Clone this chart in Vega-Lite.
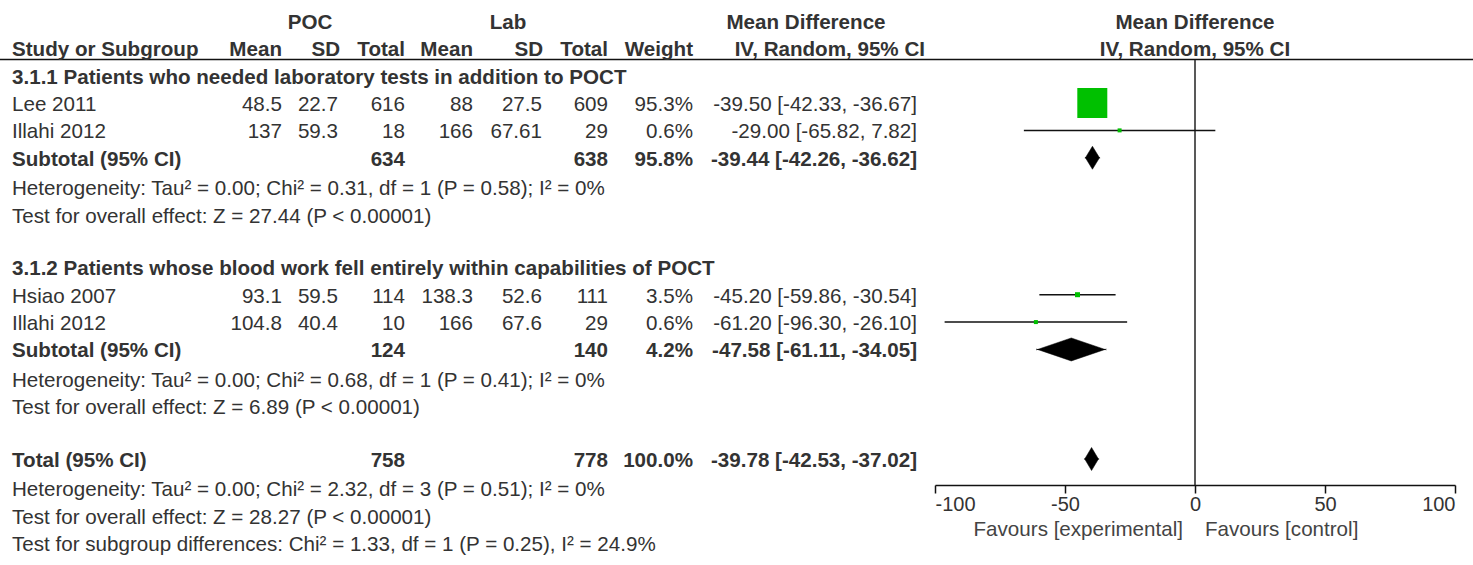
{
  "$schema": "https://vega.github.io/schema/vega-lite/v6.json",
  "width": 1473,
  "height": 565,
  "autosize": {"type": "none"},
  "padding": 0,
  "background": "white",
  "config": {
    "view": {"stroke": null},
    "text": {"font": "Liberation Sans", "fontSize": 20.6, "fill": "#333", "baseline": "middle"}
  },
  "datasets": {
    "rows": [
      {"id": "g1", "kind": "group", "label": "3.1.1 Patients who needed laboratory tests in addition to POCT"},
      {"id": "lee", "kind": "study", "label": "Lee 2011", "pocMean": 48.5, "pocSD": 22.7, "pocN": 616, "labMean": 88, "labSD": 27.5, "labN": 609, "weight": 0.953, "ci": "-39.50 [-42.33, -36.67]", "md": -39.5, "lo": -42.33, "hi": -36.67},
      {"id": "ill1", "kind": "study", "label": "Illahi 2012", "pocMean": 137, "pocSD": 59.3, "pocN": 18, "labMean": 166, "labSD": 67.61, "labN": 29, "weight": 0.006, "ci": "-29.00 [-65.82, 7.82]", "md": -29.0, "lo": -65.82, "hi": 7.82},
      {"id": "sub1", "kind": "subtotal", "label": "Subtotal (95% CI)", "pocN": 634, "labN": 638, "weight": 0.958, "ci": "-39.44 [-42.26, -36.62]", "md": -39.44, "lo": -42.26, "hi": -36.62},
      {"id": "het1", "kind": "note", "label": "Heterogeneity: Tau² = 0.00; Chi² = 0.31, df = 1 (P = 0.58); I² = 0%"},
      {"id": "test1", "kind": "note", "label": "Test for overall effect: Z = 27.44 (P < 0.00001)"},
      {"id": "g2", "kind": "group", "label": "3.1.2 Patients whose blood work fell entirely within capabilities of POCT"},
      {"id": "hsiao", "kind": "study", "label": "Hsiao 2007", "pocMean": 93.1, "pocSD": 59.5, "pocN": 114, "labMean": 138.3, "labSD": 52.6, "labN": 111, "weight": 0.035, "ci": "-45.20 [-59.86, -30.54]", "md": -45.2, "lo": -59.86, "hi": -30.54},
      {"id": "ill2", "kind": "study", "label": "Illahi 2012", "pocMean": 104.8, "pocSD": 40.4, "pocN": 10, "labMean": 166, "labSD": 67.6, "labN": 29, "weight": 0.006, "ci": "-61.20 [-96.30, -26.10]", "md": -61.2, "lo": -96.3, "hi": -26.1},
      {"id": "sub2", "kind": "subtotal", "label": "Subtotal (95% CI)", "pocN": 124, "labN": 140, "weight": 0.042, "ci": "-47.58 [-61.11, -34.05]", "md": -47.58, "lo": -61.11, "hi": -34.05},
      {"id": "het2", "kind": "note", "label": "Heterogeneity: Tau² = 0.00; Chi² = 0.68, df = 1 (P = 0.41); I² = 0%"},
      {"id": "test2", "kind": "note", "label": "Test for overall effect: Z = 6.89 (P < 0.00001)"},
      {"id": "total", "kind": "total", "label": "Total (95% CI)", "pocN": 758, "labN": 778, "weight": 1.0, "ci": "-39.78 [-42.53, -37.02]", "md": -39.78, "lo": -42.53, "hi": -37.02},
      {"id": "het3", "kind": "note", "label": "Heterogeneity: Tau² = 0.00; Chi² = 2.32, df = 3 (P = 0.51); I² = 0%"},
      {"id": "test3", "kind": "note", "label": "Test for overall effect: Z = 28.27 (P < 0.00001)"},
      {"id": "testsub", "kind": "note", "label": "Test for subgroup differences: Chi² = 1.33, df = 1 (P = 0.25), I² = 24.9%"}
    ]
  },
  "data": {"name": "rows"},
  "encoding": {
    "y": {
      "field": "id",
      "type": "nominal",
      "scale": {
        "type": "band",
        "domain": ["h1", "h2", "g1", "lee", "ill1", "sub1", "het1", "test1", "blank1", "g2", "hsiao", "ill2", "sub2", "het2", "test2", "blank2", "total", "het3", "test3", "testsub"],
        "range": [7.15, 554.85],
        "paddingInner": 0,
        "paddingOuter": 0
      },
      "axis": null
    }
  },
  "layer": [
    {
      "data": {"values": [{}]},
      "mark": {"type": "rule", "color": "#111", "strokeWidth": 1.6},
      "encoding": {"x": {"value": 0}, "x2": {"value": 1473}, "y": {"value": 59.5}}
    },
    {
      "data": {"values": [{}]},
      "mark": {"type": "rule", "color": "#222", "strokeWidth": 1.5},
      "encoding": {
        "x": {"datum": 0, "type": "quantitative", "scale": {"domain": [-100, 100], "range": [935, 1455], "nice": false, "zero": false},
          "axis": {"values": [-100, -50, 0, 50, 100], "labelExpr": "'' + datum.value", "offset": -80, "orient": "bottom", "title": null, "grid": false, "labelFlush": true, "labelFont": "Liberation Sans", "labelFontSize": 20, "labelColor": "#333", "labelPadding": 1, "domainColor": "#111", "domainWidth": 1.5, "tickColor": "#111", "tickWidth": 1.5, "tickSize": 8}},
        "y": {"value": 60},
        "y2": {"value": 485}
      }
    },
    {
      "transform": [{"filter": "datum.kind == 'study'"}],
      "mark": {"type": "rule", "color": "#111", "strokeWidth": 1.5},
      "encoding": {
        "x": {"field": "lo", "type": "quantitative", "scale": {"domain": [-100, 100], "range": [935, 1455], "nice": false, "zero": false},
          "axis": {"values": [-100, -50, 0, 50, 100], "labelExpr": "'' + datum.value", "offset": -80, "orient": "bottom", "title": null, "grid": false, "labelFlush": true, "labelFont": "Liberation Sans", "labelFontSize": 20, "labelColor": "#333", "labelPadding": 1, "domainColor": "#111", "domainWidth": 1.5, "tickColor": "#111", "tickWidth": 1.5, "tickSize": 8}},
        "x2": {"field": "hi"}
      }
    },
    {
      "transform": [{"filter": "datum.kind == 'study'"}],
      "mark": {"type": "point", "shape": "square", "filled": true, "color": "#00c000", "opacity": 1, "strokeWidth": 0},
      "encoding": {
        "x": {"field": "md", "type": "quantitative", "scale": {"domain": [-100, 100], "range": [935, 1455], "nice": false, "zero": false},
          "axis": {"values": [-100, -50, 0, 50, 100], "labelExpr": "'' + datum.value", "offset": -80, "orient": "bottom", "title": null, "grid": false, "labelFlush": true, "labelFont": "Liberation Sans", "labelFontSize": 20, "labelColor": "#333", "labelPadding": 1, "domainColor": "#111", "domainWidth": 1.5, "tickColor": "#111", "tickWidth": 1.5, "tickSize": 8}},
        "size": {"field": "weight", "type": "quantitative", "scale": {"domain": [0.006, 0.035, 0.953], "range": [16, 25, 900]}, "legend": null}
      }
    },
    {
      "transform": [
        {"filter": "datum.kind == 'subtotal' || datum.kind == 'total'"},
        {"fold": ["lo", "md", "hi"], "as": ["vertex", "val"]},
        {"window": [{"op": "row_number", "as": "k"}], "groupby": ["id"]}
      ],
      "mark": {"type": "line", "fill": "#000", "stroke": "#000", "strokeWidth": 0.5, "interpolate": "linear"},
      "encoding": {
        "x": {"field": "val", "type": "quantitative", "scale": {"domain": [-100, 100], "range": [935, 1455], "nice": false, "zero": false},
          "axis": {"values": [-100, -50, 0, 50, 100], "labelExpr": "'' + datum.value", "offset": -80, "orient": "bottom", "title": null, "grid": false, "labelFlush": true, "labelFont": "Liberation Sans", "labelFontSize": 20, "labelColor": "#333", "labelPadding": 1, "domainColor": "#111", "domainWidth": 1.5, "tickColor": "#111", "tickWidth": 1.5, "tickSize": 8}},
        "yOffset": {"field": "k", "type": "quantitative", "scale": {"domain": [1, 2, 3], "range": [14.19, 2.19, 14.19]}},
        "order": {"field": "k", "type": "quantitative"},
        "detail": {"field": "id", "type": "nominal"}
      }
    },
    {
      "transform": [
        {"filter": "datum.kind == 'subtotal' || datum.kind == 'total'"},
        {"fold": ["lo", "md", "hi"], "as": ["vertex", "val"]},
        {"window": [{"op": "row_number", "as": "k2"}], "groupby": ["id"]}
      ],
      "mark": {"type": "line", "fill": "#000", "stroke": "#000", "strokeWidth": 0.5, "interpolate": "linear"},
      "encoding": {
        "x": {"field": "val", "type": "quantitative", "scale": {"domain": [-100, 100], "range": [935, 1455], "nice": false, "zero": false},
          "axis": {"values": [-100, -50, 0, 50, 100], "labelExpr": "'' + datum.value", "offset": -80, "orient": "bottom", "title": null, "grid": false, "labelFlush": true, "labelFont": "Liberation Sans", "labelFontSize": 20, "labelColor": "#333", "labelPadding": 1, "domainColor": "#111", "domainWidth": 1.5, "tickColor": "#111", "tickWidth": 1.5, "tickSize": 8}},
        "yOffset": {"field": "k2", "type": "quantitative", "scale": {"domain": [1, 2, 3], "range": [13.19, 25.19, 13.19]}},
        "order": {"field": "k2", "type": "quantitative"},
        "detail": {"field": "id", "type": "nominal"}
      }
    },
    {
      "data": {"values": [{}]},
      "mark": {"type": "text", "text": "Favours [experimental]", "align": "right", "dx": -12, "fill": "#444"},
      "encoding": {"x": {"datum": 0, "type": "quantitative", "scale": {"domain": [-100, 100], "range": [935, 1455], "nice": false, "zero": false},
          "axis": {"values": [-100, -50, 0, 50, 100], "labelExpr": "'' + datum.value", "offset": -80, "orient": "bottom", "title": null, "grid": false, "labelFlush": true, "labelFont": "Liberation Sans", "labelFontSize": 20, "labelColor": "#333", "labelPadding": 1, "domainColor": "#111", "domainWidth": 1.5, "tickColor": "#111", "tickWidth": 1.5, "tickSize": 8}},
        "y": {"value": 530}}
    },
    {
      "data": {"values": [{}]},
      "mark": {"type": "text", "text": "Favours [control]", "align": "left", "dx": 10, "fill": "#444"},
      "encoding": {"x": {"datum": 0, "type": "quantitative", "scale": {"domain": [-100, 100], "range": [935, 1455], "nice": false, "zero": false},
          "axis": {"values": [-100, -50, 0, 50, 100], "labelExpr": "'' + datum.value", "offset": -80, "orient": "bottom", "title": null, "grid": false, "labelFlush": true, "labelFont": "Liberation Sans", "labelFontSize": 20, "labelColor": "#333", "labelPadding": 1, "domainColor": "#111", "domainWidth": 1.5, "tickColor": "#111", "tickWidth": 1.5, "tickSize": 8}},
        "y": {"value": 530}}
    },
    {
      "transform": [{"filter": "isValid(datum.label)"}],
      "mark": {"type": "text", "align": "left", "x": 12, "dy": {"expr": "datum.kind == 'note' ? 4 : 2"}, "fontWeight": {"expr": "datum.kind == 'study' || datum.kind == 'note' ? 'normal' : 'bold'"}},
      "encoding": {"text": {"field": "label", "type": "nominal"}}
    },
    {
      "transform": [{"filter": "isValid(datum.pocMean)"}],
      "mark": {"type": "text", "align": "right", "x": 282, "dy": 2},
      "encoding": {"text": {"field": "pocMean", "type": "nominal"}}
    },
    {
      "transform": [{"filter": "isValid(datum.pocSD)"}],
      "mark": {"type": "text", "align": "right", "x": 338, "dy": 2},
      "encoding": {"text": {"field": "pocSD", "type": "nominal"}}
    },
    {
      "transform": [{"filter": "isValid(datum.pocN)"}],
      "mark": {"type": "text", "align": "right", "x": 405, "dy": 2, "fontWeight": {"expr": "datum.kind == 'study' ? 'normal' : 'bold'"}},
      "encoding": {"text": {"field": "pocN", "type": "nominal"}}
    },
    {
      "transform": [{"filter": "isValid(datum.labMean)"}],
      "mark": {"type": "text", "align": "right", "x": 473, "dy": 2},
      "encoding": {"text": {"field": "labMean", "type": "nominal"}}
    },
    {
      "transform": [{"filter": "isValid(datum.labSD)"}],
      "mark": {"type": "text", "align": "right", "x": 542, "dy": 2},
      "encoding": {"text": {"field": "labSD", "type": "nominal"}}
    },
    {
      "transform": [{"filter": "isValid(datum.labN)"}],
      "mark": {"type": "text", "align": "right", "x": 608, "dy": 2, "fontWeight": {"expr": "datum.kind == 'study' ? 'normal' : 'bold'"}},
      "encoding": {"text": {"field": "labN", "type": "nominal"}}
    },
    {
      "transform": [{"filter": "isValid(datum.weight)"}],
      "mark": {"type": "text", "align": "right", "x": 693, "dy": 2, "fontWeight": {"expr": "datum.kind == 'study' ? 'normal' : 'bold'"}},
      "encoding": {"text": {"field": "weight", "type": "quantitative", "format": ".1%"}}
    },
    {
      "transform": [{"filter": "isValid(datum.ci)"}],
      "mark": {"type": "text", "align": "right", "x": 917, "dy": 2, "fontWeight": {"expr": "datum.kind == 'study' ? 'normal' : 'bold'"}},
      "encoding": {"text": {"field": "ci", "type": "nominal"}}
    },
    {
      "data": {"values": [{}]},
      "mark": {"type": "text", "text": "POC", "align": "center", "x": 310, "dy": 2, "fontWeight": "bold"},
      "encoding": {"y": {"datum": "h1", "type": "nominal"}}
    },
    {
      "data": {"values": [{}]},
      "mark": {"type": "text", "text": "Lab", "align": "center", "x": 508, "dy": 2, "fontWeight": "bold"},
      "encoding": {"y": {"datum": "h1", "type": "nominal"}}
    },
    {
      "data": {"values": [{}]},
      "mark": {"type": "text", "text": "Mean Difference", "align": "center", "x": 806, "dy": 2, "fontWeight": "bold"},
      "encoding": {"y": {"datum": "h1", "type": "nominal"}}
    },
    {
      "data": {"values": [{}]},
      "mark": {"type": "text", "text": "Mean Difference", "align": "center", "dy": 2, "fontWeight": "bold"},
      "encoding": {"x": {"datum": 0, "type": "quantitative", "scale": {"domain": [-100, 100], "range": [935, 1455], "nice": false, "zero": false},
          "axis": {"values": [-100, -50, 0, 50, 100], "labelExpr": "'' + datum.value", "offset": -80, "orient": "bottom", "title": null, "grid": false, "labelFlush": true, "labelFont": "Liberation Sans", "labelFontSize": 20, "labelColor": "#333", "labelPadding": 1, "domainColor": "#111", "domainWidth": 1.5, "tickColor": "#111", "tickWidth": 1.5, "tickSize": 8}},
        "y": {"datum": "h1", "type": "nominal"}}
    },
    {
      "data": {"values": [{}]},
      "mark": {"type": "text", "text": "IV, Random, 95% CI", "align": "center", "dy": 2, "fontWeight": "bold"},
      "encoding": {"x": {"datum": 0, "type": "quantitative", "scale": {"domain": [-100, 100], "range": [935, 1455], "nice": false, "zero": false},
          "axis": {"values": [-100, -50, 0, 50, 100], "labelExpr": "'' + datum.value", "offset": -80, "orient": "bottom", "title": null, "grid": false, "labelFlush": true, "labelFont": "Liberation Sans", "labelFontSize": 20, "labelColor": "#333", "labelPadding": 1, "domainColor": "#111", "domainWidth": 1.5, "tickColor": "#111", "tickWidth": 1.5, "tickSize": 8}},
        "y": {"datum": "h2", "type": "nominal"}}
    },
    {
      "data": {"values": [{}]},
      "mark": {"type": "text", "text": "Study or Subgroup", "align": "left", "x": 12, "dy": 2, "fontWeight": "bold"},
      "encoding": {"y": {"datum": "h2", "type": "nominal"}}
    },
    {
      "data": {"values": [{}]},
      "mark": {"type": "text", "text": "Mean", "align": "right", "x": 282, "dy": 2, "fontWeight": "bold"},
      "encoding": {"y": {"datum": "h2", "type": "nominal"}}
    },
    {
      "data": {"values": [{}]},
      "mark": {"type": "text", "text": "SD", "align": "right", "x": 340, "dy": 2, "fontWeight": "bold"},
      "encoding": {"y": {"datum": "h2", "type": "nominal"}}
    },
    {
      "data": {"values": [{}]},
      "mark": {"type": "text", "text": "Total", "align": "right", "x": 405, "dy": 2, "fontWeight": "bold"},
      "encoding": {"y": {"datum": "h2", "type": "nominal"}}
    },
    {
      "data": {"values": [{}]},
      "mark": {"type": "text", "text": "Mean", "align": "right", "x": 473, "dy": 2, "fontWeight": "bold"},
      "encoding": {"y": {"datum": "h2", "type": "nominal"}}
    },
    {
      "data": {"values": [{}]},
      "mark": {"type": "text", "text": "SD", "align": "right", "x": 543, "dy": 2, "fontWeight": "bold"},
      "encoding": {"y": {"datum": "h2", "type": "nominal"}}
    },
    {
      "data": {"values": [{}]},
      "mark": {"type": "text", "text": "Total", "align": "right", "x": 608, "dy": 2, "fontWeight": "bold"},
      "encoding": {"y": {"datum": "h2", "type": "nominal"}}
    },
    {
      "data": {"values": [{}]},
      "mark": {"type": "text", "text": "Weight", "align": "right", "x": 693, "dy": 2, "fontWeight": "bold"},
      "encoding": {"y": {"datum": "h2", "type": "nominal"}}
    },
    {
      "data": {"values": [{}]},
      "mark": {"type": "text", "text": "IV, Random, 95% CI", "align": "right", "x": 925, "dy": 2, "fontWeight": "bold"},
      "encoding": {"y": {"datum": "h2", "type": "nominal"}}
    }
  ],
  "resolve": {"scale": {"yOffset": "independent"}}
}
